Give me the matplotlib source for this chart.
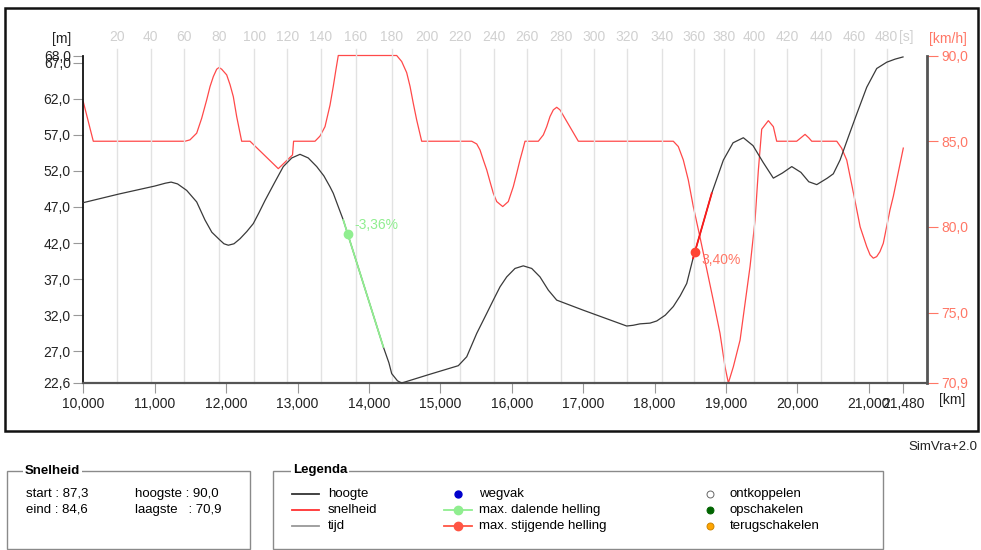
import matplotlib
matplotlib.use("Agg")
import matplotlib.pyplot as plt
from matplotlib.patches import Rectangle
from matplotlib.lines import Line2D

plt.rcParams['font.family'] = ['Liberation Sans', 'DejaVu Sans']

# ---------------- data ----------------
# height profile [m] vs distance [m]
hoogte_dist = [10000, 10500, 11000, 11150, 11230, 11320, 11448, 11588, 11704, 11800,
               11915, 11970, 12031, 12110, 12195, 12290, 12381, 12460, 12545, 12680,
               12801, 12920, 13035, 13150, 13269, 13370, 13455, 13501, 13580, 13641,
               14202, 14280, 14319, 14400, 14459, 14850, 15252, 15370, 15510, 15650,
               15742, 15836, 15930, 16046, 16162, 16280, 16396, 16513, 16630, 17000,
               17610, 17700, 17797, 17937, 18031, 18150, 18263, 18360, 18451, 18540,
               18801, 18964, 19100, 19244, 19380, 19520, 19664, 19790, 19922, 20050,
               20160, 20272, 20420, 20504, 20598, 20714, 20832, 20972, 21112, 21252,
               21370, 21480]
hoogte = [47.6, 48.8, 49.9, 50.3, 50.45, 50.2, 49.3, 47.7, 45.2, 43.5,
          42.4, 41.9, 41.7, 41.9, 42.6, 43.6, 44.7, 46.2, 47.9, 50.4,
          52.6, 53.8, 54.3, 53.8, 52.6, 51.3, 49.8, 48.9, 46.8, 45.2,
          27.6, 25.4, 23.9, 22.9, 22.6, 23.8, 25.0, 26.24, 29.48, 32.25,
          34.09, 35.93, 37.31, 38.48, 38.84, 38.48, 37.31, 35.47, 34.09, 32.7,
          30.5, 30.6, 30.8, 30.9, 31.2, 32.0, 33.2, 34.7, 36.4, 39.9,
          48.9, 53.5, 55.9, 56.6, 55.5, 53.2, 51.0, 51.7, 52.6, 51.8,
          50.5, 50.1, 51.0, 51.6, 53.5, 56.7, 59.9, 63.6, 66.2, 67.07,
          67.5, 67.8]

# speed profile [km/h] vs distance [m]
snelheid_dist = [10000, 10140, 11424, 11494, 11588, 11658, 11728, 11775, 11821, 11868,
                 11901, 11938, 12008, 12055, 12101, 12148, 12195, 12218, 12335, 12731,
                 12930, 12945, 13245, 13315, 13385, 13455, 13501, 13539, 13571, 14389,
                 14459, 14529, 14576, 14622, 14669, 14739, 15440, 15510, 15556, 15602,
                 15650, 15696, 15742, 15790, 15874, 15952, 16022, 16070, 16116, 16154,
                 16186, 16373, 16443, 16490, 16536, 16583, 16630, 16676, 16933, 18263,
                 18333, 18403, 18473, 18543, 18637, 18824, 18917, 18987, 19034, 19104,
                 19198, 19338, 19408, 19454, 19501, 19594, 19664, 19711, 19991, 20050,
                 20108, 20160, 20202, 20552, 20620, 20692, 20785, 20880, 20972, 21019,
                 21064, 21111, 21157, 21204, 21298, 21345, 21484]
snelheid = [87.3, 85.0, 85.0, 85.08, 85.47, 86.34, 87.41, 88.19, 88.77, 89.2,
            89.3, 89.2, 88.87, 88.3, 87.6, 86.44, 85.47, 85.0, 85.0, 83.4,
            84.2, 85.0, 85.0, 85.3, 85.85, 87.1, 88.2, 89.2, 90.0, 90.0,
            89.65, 89.0, 88.2, 87.2, 86.24, 85.0, 85.0, 84.84, 84.49, 83.91,
            83.33, 82.64, 81.97, 81.48, 81.19, 81.48, 82.35, 83.13, 83.91, 84.49,
            85.0, 85.0, 85.37, 85.85, 86.44, 86.83, 86.98, 86.83, 85.0, 85.0,
            84.69, 83.91, 82.74, 81.19, 79.4, 75.7, 73.8, 71.85, 70.9, 71.85,
            73.4, 77.7, 80.4, 83.3, 85.7, 86.2, 85.85, 85.0, 85.0, 85.2,
            85.4, 85.2, 85.0, 85.0, 84.6, 83.9, 82.0, 80.0, 78.85, 78.37,
            78.18, 78.27, 78.56, 79.05, 81.0, 81.8, 84.6]

# time grid [s] and the distance [m] reached at that time
tijd_s = [20, 40, 60, 80, 100, 120, 140, 160, 180, 200, 220, 240,
          260, 280, 300, 320, 340, 360, 380, 400, 420, 440, 460, 480]
tijd_dist = [10468, 10944, 11415, 11896, 12395, 12857, 13325, 13815, 14319, 14810,
             15276, 15752, 16210, 16686, 17153, 17619, 18101, 18557, 18978, 19398,
             19860, 20332, 20798, 21252]

# max slopes
dalend_dist = [13641, 14202]
dalend_h = [45.2, 27.6]
dalend_punt = (13705, 43.2)
dalend_label = "-3,36%"
stijgend_dist = [18540, 18801]
stijgend_h = [39.9, 48.9]
stijgend_punt = (18565, 40.75)
stijgend_label = "3,40%"

left_ticks = [22.6, 27.0, 32.0, 37.0, 42.0, 47.0, 52.0, 57.0, 62.0, 67.0, 68.0]
right_ticks = [70.9, 75.0, 80.0, 85.0, 90.0]
km_ticks = [10000, 11000, 12000, 13000, 14000, 15000, 16000, 17000, 18000, 19000,
            20000, 21000, 21480]

# ---------------- layout ----------------
W, H = 981, 550
fig = plt.figure(figsize=(W / 100, H / 100), dpi=100)


def fx(x):
    return x / W


def fy(y):
    return 1 - y / H


# outer frame
fig.patches.append(Rectangle((fx(5), fy(431)), fx(978) - fx(5), (431 - 8) / H,
                             transform=fig.transFigure, fill=False,
                             edgecolor='#111111', linewidth=1.8))

L, R, T, B = 83.3, 927, 55.5, 383
ax = fig.add_axes([fx(L), fy(B), (R - L) / W, (B - T) / H])
ax.set_xlim(10000, 21816)
ax.set_ylim(22.6, 68.0)

# time gridlines
for d in tijd_dist:
    ax.plot([d, d], [22.6, 68.9], color='#e2e2e2', lw=1.0, clip_on=False, zorder=0)
for t, d in zip(tijd_s, tijd_dist):
    ax.text(d, 1.055, str(t), transform=ax.get_xaxis_transform(), ha='center',
            va='center', fontsize=10, color='#d0d0d0')
ax.text(tijd_dist[-1] + 165, 1.055, "[s]", transform=ax.get_xaxis_transform(),
        ha='left', va='center', fontsize=10, color='#d0d0d0')

ax.plot(hoogte_dist, hoogte, color='#3a3a3a', lw=0.9, zorder=3, clip_on=False)
ax.plot(dalend_dist, dalend_h, color='#90ee90', lw=1.3, zorder=4)
ax.plot(stijgend_dist, stijgend_h, color='#ff1a1a', lw=1.3, zorder=4)
ax.plot(*dalend_punt, 'o', color='#90ee90', ms=6, zorder=5)
ax.plot(*stijgend_punt, 'o', color='#ff4433', ms=6, zorder=5)
ax.annotate(dalend_label, dalend_punt, xytext=(5, 6.5), textcoords='offset points',
            fontsize=10, color='#90ee90', va='center', ha='left')
ax.annotate(stijgend_label, stijgend_punt, xytext=(5, -6), textcoords='offset points',
            fontsize=10, color='#ff7766', va='center', ha='left')

ax.set_yticks(left_ticks)
ax.set_yticklabels([f"{v:.1f}".replace('.', ',') for v in left_ticks])
ax.set_xticks(km_ticks)
ax.set_xticklabels([f"{v:,}" for v in km_ticks])
ax.tick_params(axis='y', length=7, color='#999999', labelsize=10, labelcolor='#222222', pad=2)
ax.tick_params(axis='x', length=7, color='#999999', labelsize=10, labelcolor='#222222', pad=3)
ax.spines['top'].set_visible(False)
ax.spines['right'].set_visible(False)
ax.spines['left'].set_color('#111111')
ax.spines['left'].set_linewidth(1.3)
ax.spines['bottom'].set_color('#555555')
ax.spines['bottom'].set_linewidth(1.6)
ax.patch.set_alpha(0)

ax2 = ax.twinx()
ax2.set_ylim(70.9, 90.0)
ax2.plot(snelheid_dist, snelheid, color='#ff3535', lw=0.9, alpha=0.9, zorder=2, clip_on=False)
ax2.set_yticks(right_ticks)
ax2.set_yticklabels([f"{v:.1f}".replace('.', ',') for v in right_ticks])
ax2.tick_params(axis='y', length=8, color='#ff7766', labelsize=10, labelcolor='#ff7766', pad=2)
for s in ['top', 'left', 'bottom']:
    ax2.spines[s].set_visible(False)
ax2.spines['right'].set_color('#555555')
ax2.spines['right'].set_linewidth(2.0)
ax.set_zorder(ax2.get_zorder() + 1)

# axis unit labels
fig.text(fx(62), fy(39), "[m]", fontsize=10, color='#222222', ha='center', va='center')
fig.text(fx(948), fy(39), "[km/h]", fontsize=10, color='#ff7766', ha='center', va='center')
fig.text(fx(952), fy(400), "[km]", fontsize=10, color='#222222', ha='center', va='center')
fig.text(fx(977), fy(447), "SimVra+2.0", fontsize=9.5, color='#222222', ha='right', va='center')

# ---------------- bottom boxes ----------------
box_color = '#8a8a8a'
fig.patches.append(Rectangle((fx(7), fy(549)), fx(249.5) - fx(7), (549 - 470.5) / H,
                             transform=fig.transFigure, fill=False,
                             edgecolor=box_color, linewidth=1.0))
fig.text(fx(25), fy(470.5), "Snelheid", fontsize=9.5, fontweight='bold', ha='left', va='center',
         bbox=dict(facecolor='white', edgecolor='none', pad=1.5))
fs = 9.5
fig.text(fx(26), fy(494), "start : 87,3", fontsize=fs, ha='left', va='center')
fig.text(fx(26), fy(510), "eind : 84,6", fontsize=fs, ha='left', va='center')
fig.text(fx(135), fy(494), "hoogste : 90,0", fontsize=fs, ha='left', va='center')
fig.text(fx(135), fy(510), "laagste   : 70,9", fontsize=fs, ha='left', va='center')

fig.patches.append(Rectangle((fx(273.3), fy(549)), fx(883.3) - fx(273.3), (549 - 470.5) / H,
                             transform=fig.transFigure, fill=False,
                             edgecolor=box_color, linewidth=1.0))
fig.text(fx(293), fy(470.5), "Legenda", fontsize=9.5, fontweight='bold', ha='left', va='center',
         bbox=dict(facecolor='white', edgecolor='none', pad=1.5))

rows = [494, 510, 526]
# column 1: lines
for y, c, lab in zip(rows, ['#333333', '#ff3030', '#999999'], ['hoogte', 'snelheid', 'tijd']):
    fig.lines.append(Line2D([fx(292), fx(319)], [fy(y), fy(y)], color=c, lw=1.3,
                            transform=fig.transFigure))
    fig.text(fx(328), fy(y), lab, fontsize=fs, ha='left', va='center')
# column 2
fig.lines.append(Line2D([fx(457.7)], [fy(494)], marker='o', color='#0000cc', ms=5,
                        lw=0, transform=fig.transFigure))
fig.text(fx(479), fy(494), "wegvak", fontsize=fs, ha='left', va='center')
for y, c, lab in zip(rows[1:], ['#90ee90', '#ff5544'],
                     ['max. dalende helling', 'max. stijgende helling']):
    fig.lines.append(Line2D([fx(444), fx(471.5)], [fy(y), fy(y)], color=c, lw=1.3,
                            transform=fig.transFigure))
    fig.lines.append(Line2D([fx(457.7)], [fy(y)], marker='o', color=c, ms=6, lw=0,
                            transform=fig.transFigure))
    fig.text(fx(479), fy(y), lab, fontsize=fs, ha='left', va='center')
# column 3
for y, fc, ec, lab in zip(rows, ['white', '#006400', '#ffa500'],
                          ['#666666', '#006400', '#cc8400'],
                          ['ontkoppelen', 'opschakelen', 'terugschakelen']):
    fig.lines.append(Line2D([fx(709.5)], [fy(y)], marker='o', markerfacecolor=fc,
                            markeredgecolor=ec, markeredgewidth=0.7, ms=5, lw=0,
                            transform=fig.transFigure))
    fig.text(fx(730), fy(y), lab, fontsize=fs, ha='left', va='center')

fig.savefig("out.png", dpi=100)
